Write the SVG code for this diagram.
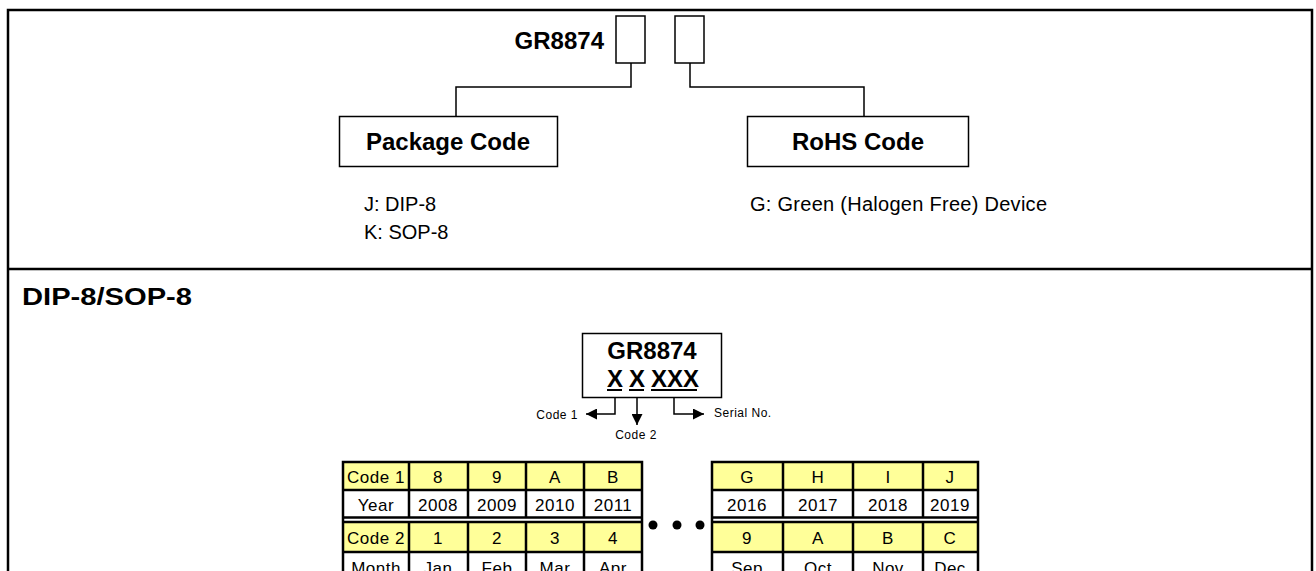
<svg xmlns="http://www.w3.org/2000/svg" width="1316" height="571" viewBox="0 0 1316 571">
<defs>
<style>
.frame{fill:none;stroke:#000;stroke-width:2.5}
.thin{fill:none;stroke:#000;stroke-width:1.5}
.box{fill:#fff;stroke:#000;stroke-width:1.5}
.b24{font-family:"Liberation Sans",Arial,sans-serif;font-weight:bold;font-size:24px;fill:#000}
.r20{font-family:"Liberation Sans",Arial,sans-serif;font-size:20px;fill:#000}
.sm{font-family:"Liberation Sans",Arial,sans-serif;font-size:12px;fill:#000}
.cell{font-family:"Liberation Sans",Arial,sans-serif;font-size:17px;fill:#000;text-anchor:middle;letter-spacing:0.5px}
.y{fill:#FFFF99}
.w{fill:#fff}
.grid{fill:none;stroke:#000;stroke-width:2.5}
</style>
<marker id="ah" viewBox="0 0 10 10" refX="10" refY="5" markerWidth="11" markerHeight="11" markerUnits="userSpaceOnUse" orient="auto">
<path d="M0,0 L10,5 L0,10 z" fill="#000"/>
</marker>
</defs>
<rect width="1316" height="571" fill="#fff"/>
<g id="frame">
<path class="frame" d="M8,580 V10 H1312 V580"/>
<line class="frame" x1="8" y1="269" x2="1312" y2="269"/>
</g>
<g id="part-number">
<text class="b24" x="604" y="49" text-anchor="end">GR8874</text>
<rect class="box" x="616" y="16" width="29" height="47"/>
<rect class="box" x="675" y="16" width="29" height="47"/>
</g>
<g id="package-code">
<rect class="box" x="339.5" y="116.5" width="218" height="50"/>
<text class="b24" x="448" y="150" text-anchor="middle">Package Code</text>
<text class="r20" x="364" y="211">J: DIP-8</text>
<text class="r20" x="364" y="239">K: SOP-8</text>
</g>
<g id="rohs-code">
<rect class="box" x="747.5" y="116.5" width="221" height="50"/>
<text class="b24" x="858" y="150" text-anchor="middle">RoHS Code</text>
<text class="r20" x="750" y="211" textLength="297">G: Green (Halogen Free) Device</text>
</g>
<g id="connectors">
<path class="thin" d="M631,63 V87 H456 V116"/>
<path class="thin" d="M690,63 V87 H864 V116"/>
<path class="thin" d="M615,390 V414 H586" marker-end="url(#ah)"/>
<path class="thin" d="M637,390 V425" marker-end="url(#ah)"/>
<path class="thin" d="M674,390 V414 H704" marker-end="url(#ah)"/>
</g>
<g id="section-title">
<text class="b24" x="22" y="305" textLength="170" lengthAdjust="spacingAndGlyphs">DIP-8/SOP-8</text>
</g>
<g id="marking">
<rect class="box" x="582.5" y="333.5" width="139" height="64"/>
<text class="b24" x="652" y="359" text-anchor="middle" font-size="22">GR8874</text>
<text class="b24" x="607" y="387" font-size="22">X</text>
<text class="b24" x="629" y="387" font-size="22">X</text>
<text class="b24" x="651" y="387" font-size="22">XXX</text>
<line x1="607" y1="390" x2="622" y2="390" stroke="#000" stroke-width="2"/>
<line x1="629" y1="390" x2="644" y2="390" stroke="#000" stroke-width="2"/>
<line x1="651" y1="390" x2="697" y2="390" stroke="#000" stroke-width="2"/>
<text class="sm" x="578" y="419" text-anchor="end" letter-spacing="0.5">Code 1</text>
<text class="sm" x="636" y="439" text-anchor="middle" letter-spacing="0.5">Code 2</text>
<text class="sm" x="714" y="417" letter-spacing="0.5">Serial No.</text>
</g>
<g id="table-left">
<rect class="y" x="343" y="462" width="299" height="28"/>
<rect class="w" x="343" y="490" width="299" height="28"/>
<rect class="y" x="343" y="522" width="299" height="30"/>
<rect class="w" x="343" y="552" width="299" height="28"/>
<path class="grid" d="M343,580 V462 H642 V580 M343,490 H642 M343,517.5 H642 M343,522 H642 M343,552 H642 M409,462 V517 M409,522 V580 M468,462 V517 M468,522 V580 M526,462 V517 M526,522 V580 M584,462 V517 M584,522 V580"/>
<text class="cell" x="376" y="483">Code 1</text>
<text class="cell" x="438" y="483">8</text>
<text class="cell" x="497" y="483">9</text>
<text class="cell" x="555" y="483">A</text>
<text class="cell" x="613" y="483">B</text>
<text class="cell" x="376" y="511">Year</text>
<text class="cell" x="438" y="511">2008</text>
<text class="cell" x="497" y="511">2009</text>
<text class="cell" x="555" y="511">2010</text>
<text class="cell" x="613" y="511">2011</text>
<text class="cell" x="376" y="544">Code 2</text>
<text class="cell" x="438" y="544">1</text>
<text class="cell" x="497" y="544">2</text>
<text class="cell" x="555" y="544">3</text>
<text class="cell" x="613" y="544">4</text>
<text class="cell" x="376" y="574">Month</text>
<text class="cell" x="438" y="574">Jan</text>
<text class="cell" x="497" y="574">Feb</text>
<text class="cell" x="555" y="574">Mar</text>
<text class="cell" x="613" y="574">Apr</text>
</g>
<g id="ellipsis">
<circle cx="653" cy="525" r="4.5"/>
<circle cx="677" cy="525" r="4.5"/>
<circle cx="700" cy="525" r="4.5"/>
</g>
<g id="table-right">
<rect class="y" x="712" y="462" width="266" height="28"/>
<rect class="w" x="712" y="490" width="266" height="28"/>
<rect class="y" x="712" y="522" width="266" height="30"/>
<rect class="w" x="712" y="552" width="266" height="28"/>
<path class="grid" d="M712,580 V462 H978 V580 M712,490 H978 M712,517.5 H978 M712,522 H978 M712,552 H978 M783,462 V517 M783,522 V580 M853,462 V517 M853,522 V580 M923,462 V517 M923,522 V580"/>
<text class="cell" x="747" y="483">G</text>
<text class="cell" x="818" y="483">H</text>
<text class="cell" x="888" y="483">I</text>
<text class="cell" x="950" y="483">J</text>
<text class="cell" x="747" y="511">2016</text>
<text class="cell" x="818" y="511">2017</text>
<text class="cell" x="888" y="511">2018</text>
<text class="cell" x="950" y="511">2019</text>
<text class="cell" x="747" y="544">9</text>
<text class="cell" x="818" y="544">A</text>
<text class="cell" x="888" y="544">B</text>
<text class="cell" x="950" y="544">C</text>
<text class="cell" x="747" y="574">Sep</text>
<text class="cell" x="818" y="574">Oct</text>
<text class="cell" x="888" y="574">Nov</text>
<text class="cell" x="950" y="574">Dec</text>
</g>
</svg>
